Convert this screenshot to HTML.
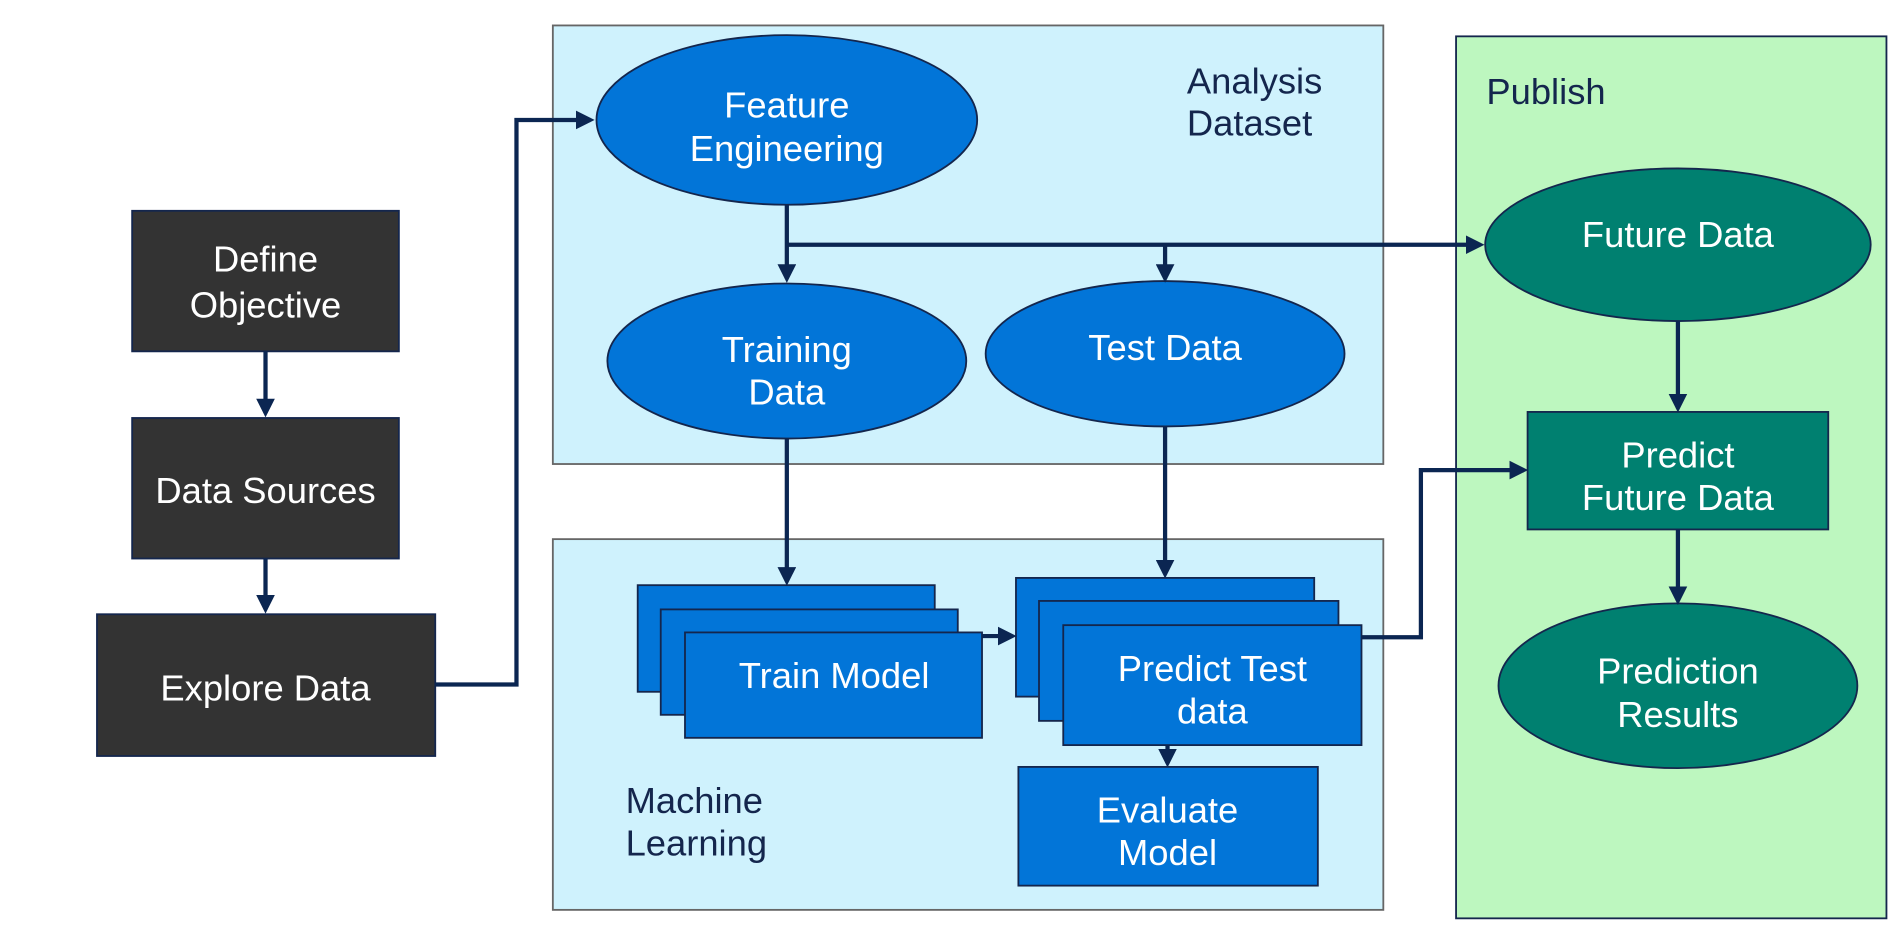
<!DOCTYPE html>
<html><head><meta charset="utf-8"><style>
html,body{margin:0;padding:0;background:#fff;width:1901px;height:945px;overflow:hidden}
svg{display:block}
text{font-family:"Liberation Sans",sans-serif;font-size:30px}
.w{fill:#fff}.n{fill:#14264d}
</style></head><body>
<svg width="1901" height="945" viewBox="0 0 1568 780" preserveAspectRatio="none">
<defs><marker id="a" markerWidth="4.4" markerHeight="4.4" refX="3.4" refY="2.2" orient="auto"><path d="M0,0 L4.4,2.2 L0,4.4 z" fill="#0b2652"/></marker></defs>
<g stroke="#14264d" stroke-width="1.5">
<rect x="109" y="174" width="220" height="116" fill="#333"/>
<rect x="109" y="345" width="220" height="116" fill="#333"/>
<rect x="80" y="507" width="279" height="117" fill="#333"/>
</g>
<rect x="456" y="21" width="685" height="362" fill="#cff2fd" stroke="#666" stroke-width="1.5"/>
<rect x="456" y="445" width="685" height="306" fill="#cff2fd" stroke="#666" stroke-width="1.5"/>
<rect x="1201" y="30" width="355" height="728" fill="#bdf7bf" stroke="#14264d" stroke-width="1.5"/>
<g stroke="#14264d" stroke-width="1.5" fill="#0275d8">
<ellipse cx="649" cy="99" rx="157" ry="70"/>
<ellipse cx="649" cy="298" rx="148" ry="64"/>
<ellipse cx="961" cy="292" rx="148" ry="60"/>
<rect x="526" y="483" width="245" height="88"/>
<rect x="545" y="503" width="245" height="87"/>
<rect x="565" y="522" width="245" height="87"/>
<rect x="838" y="477" width="246" height="98"/>
<rect x="857" y="496" width="247" height="99"/>
<rect x="877" y="516" width="246" height="99"/>
<rect x="840" y="633" width="247" height="98"/>
</g>
<g stroke="#14264d" stroke-width="1.5" fill="#008070">
<ellipse cx="1384" cy="202" rx="159" ry="63"/>
<rect x="1260" y="340" width="248" height="97"/>
<ellipse cx="1384" cy="566" rx="148" ry="68"/>
</g>
<g stroke="#0b2652" stroke-width="3.5" fill="none" marker-end="url(#a)">
<path d="M219,290 V341"/>
<path d="M219,461 V503"/>
<path d="M359,565 H426 V99 H487"/>
<path d="M649,169 V230"/>
<path d="M649,202 H1221"/>
<path d="M961,202 V230"/>
<path d="M649,362 V480"/>
<path d="M961,352 V474"/>
<path d="M810,525 H835"/>
<path d="M1123,526 H1172 V388 H1257"/>
<path d="M963,615 V630"/>
<path d="M1384,265 V337"/>
<path d="M1384,437 V496"/>
</g>
<g text-anchor="middle" class="w">
<text x="219" y="224" class="w">Define</text><text x="219" y="262" class="w">Objective</text>
<text x="219" y="415" class="w">Data Sources</text>
<text x="219" y="578" class="w">Explore Data</text>
<text x="649" y="97" class="w">Feature</text><text x="649" y="133" class="w">Engineering</text>
<text x="649" y="299" class="w">Training</text><text x="649" y="334" class="w">Data</text>
<text x="961" y="297" class="w">Test Data</text>
<text x="688" y="568" class="w">Train Model</text>
<text x="1000" y="562" class="w">Predict Test</text><text x="1000" y="597" class="w">data</text>
<text x="963" y="679" class="w">Evaluate</text><text x="963" y="714" class="w">Model</text>
<text x="1384" y="204" class="w">Future Data</text>
<text x="1384" y="386" class="w">Predict</text><text x="1384" y="421" class="w">Future Data</text>
<text x="1384" y="564" class="w">Prediction</text><text x="1384" y="600" class="w">Results</text>
</g>
<text x="979" y="77" class="n">Analysis</text><text x="979" y="112" class="n">Dataset</text>
<text x="1226" y="86" class="n">Publish</text>
<text x="516" y="671" class="n">Machine</text><text x="516" y="706" class="n">Learning</text>
</svg>
</body></html>
